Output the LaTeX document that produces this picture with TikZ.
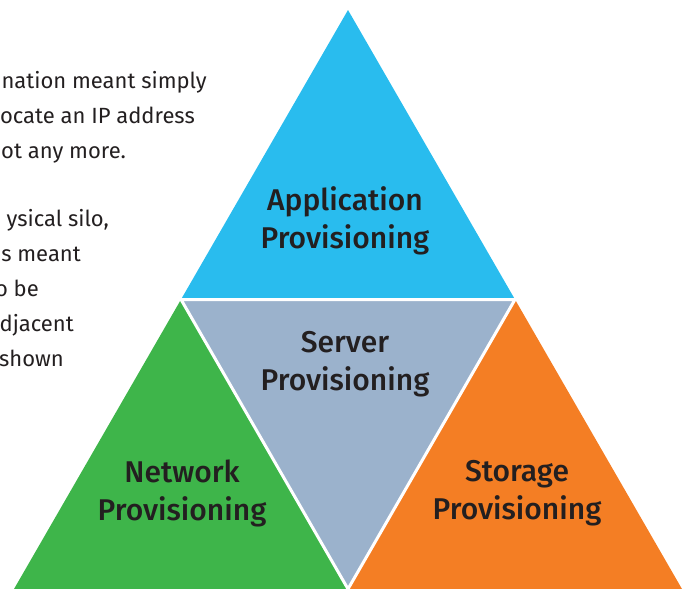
\documentclass[tikz,border=0pt]{standalone}
\usepackage{fontspec}
\setmainfont{Fira Sans}
\newfontfamily\labelfont{Fira Sans Medium}
\definecolor{appblue}{RGB}{41,188,238}
\definecolor{srvgray}{RGB}{155,178,204}
\definecolor{netgreen}{RGB}{62,181,74}
\definecolor{storange}{RGB}{244,126,36}
\definecolor{txt}{RGB}{35,31,32}
\begin{document}
\begin{tikzpicture}[x=1pt,y=-1pt,
  lbl/.style={font=\labelfont\fontsize{30}{38}\selectfont, text=txt, align=center, inner sep=0pt},
  side/.style={font=\fontsize{22}{35}\selectfont, text=txt, anchor=base east, inner sep=0pt},
  gap/.style={draw=white, line width=3pt, line join=miter}]
\useasboundingbox (0,0) rectangle (691,589);
\coordinate (A) at (348,10);
\coordinate (B) at (14,589);
\coordinate (C) at (682,589);
\coordinate (AB) at (181,299.5);
\coordinate (AC) at (515,299.5);
\coordinate (BC) at (348,589);
\fill[appblue] (A) -- (AB) -- (AC) -- cycle;
\fill[srvgray] (AB) -- (AC) -- (BC) -- cycle;
\fill[netgreen] (AB) -- (B) -- (BC) -- cycle;
\fill[storange] (AC) -- (BC) -- (C) -- cycle;
\draw[gap] (AB) -- (AC) -- (BC) -- cycle;
% side text
\node[side] (l1) at (207,88) {nation meant simply};
\node[side] (l2) at (195,123) {ocate an IP address};
\node[side] (l3) at (126,158) {ot any more.};
\node[side] (l4) at (109,226) {ysical silo,};
\node[side] (l5) at (81,261) {s meant};
\node[side] (l6) at (39,296) {o be};
\node[side] (l7) at (74,331) {djacent};
\node[side] (l8) at (64,366) {shown};
% labels
\node[lbl] (app) at (345,221) {Application\\Provisioning};
\node[lbl] (srv) at (345,364) {Server\\Provisioning};
\node[lbl] (net) at (182,493) {Network\\Provisioning};
\node[lbl] (sto) at (517,493) {Storage\\Provisioning};
\end{tikzpicture}
\end{document}
